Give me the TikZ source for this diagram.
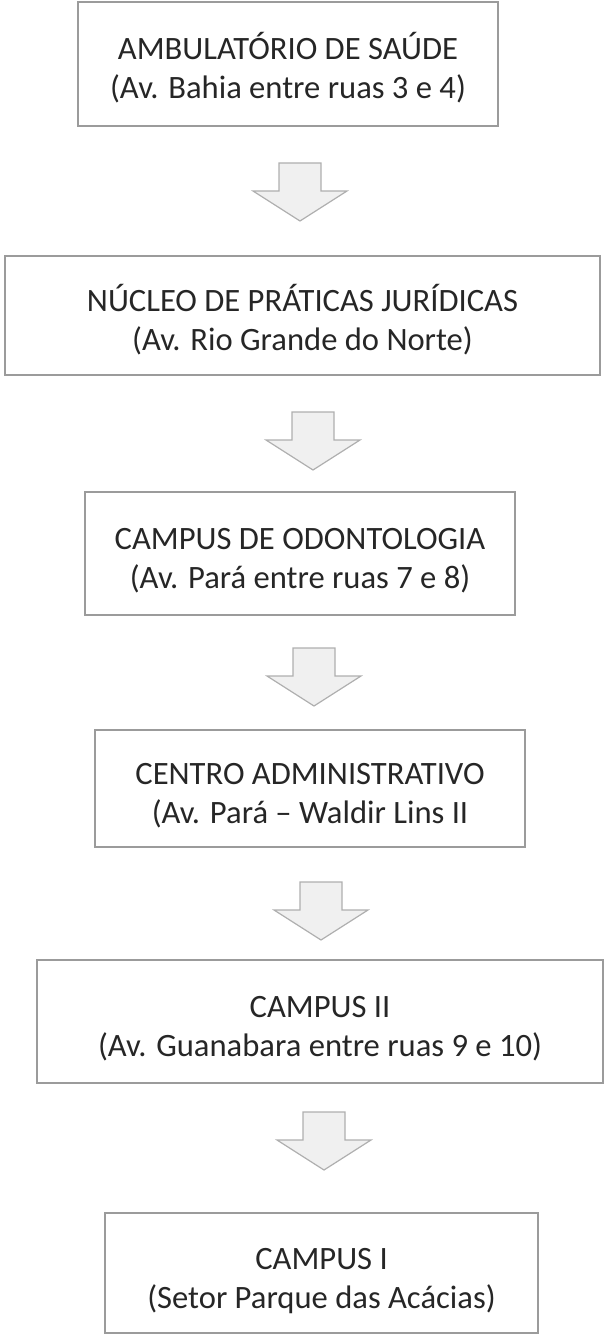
\documentclass[tikz,border=0pt]{standalone}
\usepackage{fontspec}
\setmainfont{Carlito}
\usepackage{tikz}
\usepackage{color}

\definecolor{textogris}{RGB}{38,38,38}
\definecolor{bordagris}{RGB}{155,155,155}
\definecolor{setafundo}{RGB}{240,240,240}

\tikzset{
  caixa/.style={draw=bordagris, line width=1pt, text=textogris, align=center,
    font=\fontsize{16.3}{19.5}\selectfont, inner sep=0pt,
    text height=39pt, text depth=4pt},
  seta/.style={draw=bordagris!80, fill=setafundo, line width=0.6pt, line join=miter}
}

\begin{document}
\begin{tikzpicture}[x=0.5pt,y=-0.5pt]
\useasboundingbox (0,0) rectangle (605,1337);
%% caixas
\node[caixa, minimum width=210pt, minimum height=62pt] (amb) at (288,64)
  {AMBULATÓRIO DE SAÚDE\\(Av. Bahia entre ruas 3 e 4)};
\node[caixa, minimum width=297.5pt, minimum height=59.5pt] (npj) at (302.5,315.5)
  {NÚCLEO DE PRÁTICAS JURÍDICAS\\(Av. Rio Grande do Norte)};
\node[caixa, minimum width=215pt, minimum height=61.5pt] (odonto) at (300,553.5)
  {CAMPUS DE ODONTOLOGIA\\(Av. Pará entre ruas 7 e 8)};
\node[caixa, minimum width=215pt, minimum height=58.5pt] (centro) at (310,788.5)
  {CENTRO ADMINISTRATIVO\\(Av. Pará – Waldir Lins II};
\node[caixa, minimum width=283pt, minimum height=61.5pt] (campusII) at (320,1021.5)
  {CAMPUS II\\(Av. Guanabara entre ruas 9 e 10)};
\node[caixa, minimum width=216.5pt, minimum height=60pt] (campusI) at (321.5,1273)
  {CAMPUS I\\(Setor Parque das Acácias)};
%% setas
\foreach \x/\t in {300/163, 313/412, 314/648, 321/882, 324/1112}
  \draw[seta] (\x-21,\t) -- (\x+21,\t) -- (\x+21,\t+28) -- (\x+47,\t+28)
    -- (\x,\t+58) -- (\x-47,\t+28) -- (\x-21,\t+28) -- cycle;

\end{tikzpicture}
\end{document}
